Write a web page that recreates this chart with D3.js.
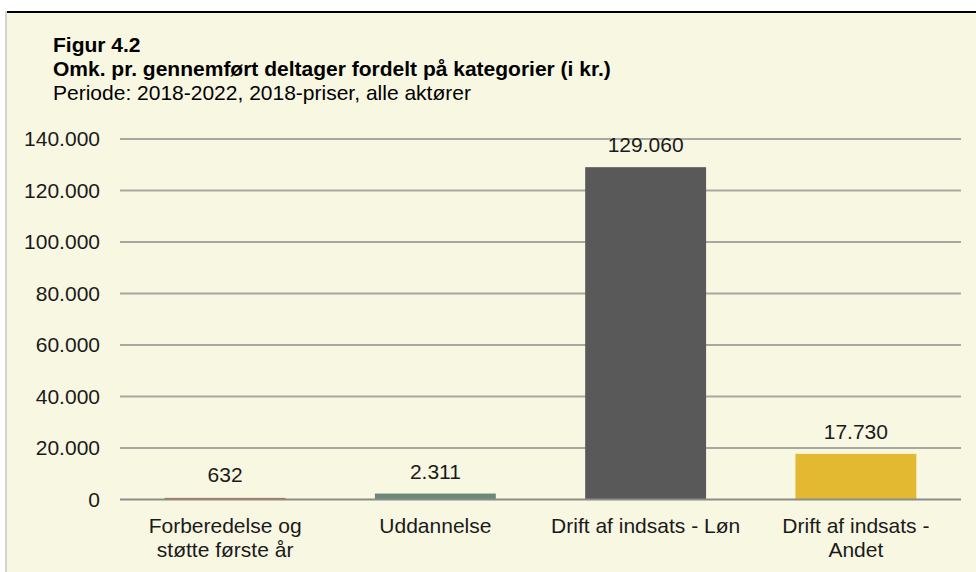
<html>
<head>
<meta charset="utf-8"/>
<title>Figur 4.2</title>
<style>
  body{margin:0;background:#fff;}
  text{font-family:"Liberation Sans", Arial, sans-serif;}
</style>
<script src="https://cdn.jsdelivr.net/npm/d3@7"></script>
</head>
<body>
<svg id="chart" width="976" height="572"></svg>
<script>
// data
var categories = ["Forberedelse og støtte første år", "Uddannelse", "Drift af indsats - Løn", "Drift af indsats - Andet"];
var values = [632, 2311, 129060, 17730];
var valueLabels = ["632", "2.311", "129.060", "17.730"];
var barColors = ["#c4692d", "#6a8a78", "#595959", "#e3b931"];
var yTicks = [0, 20000, 40000, 60000, 80000, 100000, 120000, 140000];
var yTickLabels = ["0", "20.000", "40.000", "60.000", "80.000", "100.000", "120.000", "140.000"];
var titleLines = ["Figur 4.2", "Omk. pr. gennemført deltager fordelt på kategorier (i kr.)", "Periode: 2018-2022, 2018-priser, alle aktører"];

var svg = d3.select("#chart");

// frame: grey left edge, black top rule, beige panel
svg.append("rect").attr("x", 7).attr("y", 13).attr("width", 969).attr("height", 559).attr("fill", "#f8f7e2");
svg.append("rect").attr("x", 5).attr("y", 11).attr("width", 2).attr("height", 561).attr("fill", "#d4d4d4");
svg.append("rect").attr("x", 7).attr("y", 11).attr("width", 969).attr("height", 2).attr("fill", "#000");

// titles
var title = svg.append("g");
titleLines.forEach(function(t, i){
    title.append("text")
        .attr("x", 53).attr("y", 52 + i * 24)
        .attr("font-size", "21px")
        .attr("font-weight", i < 2 ? "bold" : "normal")
        .attr("fill", "#000")
        .text(t);
});

var x = d3.scaleBand().domain(categories).range([120, 961]).paddingInner(0.425).paddingOuter(0.2125);
var y = d3.scaleLinear().domain([0, 140000]).range([499.5, 139]);

// gridlines
svg.append("g").selectAll("line")
    .data(yTicks.slice(1))
    .enter().append("line")
    .attr("x1", 120).attr("x2", 961)
    .attr("y1", function(d){ return y(d); })
    .attr("y2", function(d){ return y(d); })
    .attr("stroke", "#a8a8a2").attr("stroke-width", 2);

// y axis labels
var yAxis = d3.axisLeft(y).tickValues(yTicks).tickSize(0).tickPadding(0)
    .tickFormat(function(d, i){ return yTickLabels[i]; });
var ya = svg.append("g").attr("transform", "translate(100,0)").call(yAxis);
ya.select(".domain").remove();
ya.selectAll("text").attr("font-size", "21px").attr("fill", "#1a1a1a")
    .attr("font-family", "Liberation Sans, Arial, sans-serif");

// bars
svg.append("g").selectAll("rect")
    .data(values)
    .enter().append("rect")
    .attr("x", function(d, i){ return x(categories[i]); })
    .attr("width", x.bandwidth())
    .attr("y", function(d){ return y(d); })
    .attr("height", function(d){ return y(0) - y(d); })
    .attr("fill", function(d, i){ return barColors[i]; });

// baseline
svg.append("line").attr("x1", 120).attr("x2", 961)
    .attr("y1", y(0)).attr("y2", y(0))
    .attr("stroke", "#8c8c8a").attr("stroke-width", 2);

// value labels
svg.append("g").selectAll("text")
    .data(values)
    .enter().append("text")
    .attr("x", function(d, i){ return x(categories[i]) + x.bandwidth() / 2; })
    .attr("y", function(d){ return Math.min(y(d) - 15, 482); })
    .attr("text-anchor", "middle")
    .attr("font-size", "21px").attr("fill", "#1a1a1a")
    .text(function(d, i){ return valueLabels[i]; });

// category labels, wrapped
var xAxis = d3.axisBottom(x).tickSize(0).tickPadding(0);
var xa = svg.append("g").attr("transform", "translate(0," + y(0) + ")").call(xAxis);
xa.select(".domain").remove();
xa.selectAll("text").attr("font-size", "21px").attr("fill", "#1a1a1a")
    .attr("font-family", "Liberation Sans, Arial, sans-serif")
    .attr("dy", null).attr("y", 33)
    .each(function(){
        var el = d3.select(this), words = el.text().split(" "), line = [], n = 0;
        el.text(null);
        var ts = el.append("tspan").attr("x", 0).attr("y", 33);
        words.forEach(function(w){
            line.push(w);
            ts.text(line.join(" "));
            if (ts.node().getComputedTextLength() > 205 && line.length > 1){
                line.pop();
                ts.text(line.join(" "));
                line = [w];
                n++;
                ts = el.append("tspan").attr("x", 0).attr("y", 33 + n * 24).text(w);
            }
        });
    });
</script>
</body>
</html>
